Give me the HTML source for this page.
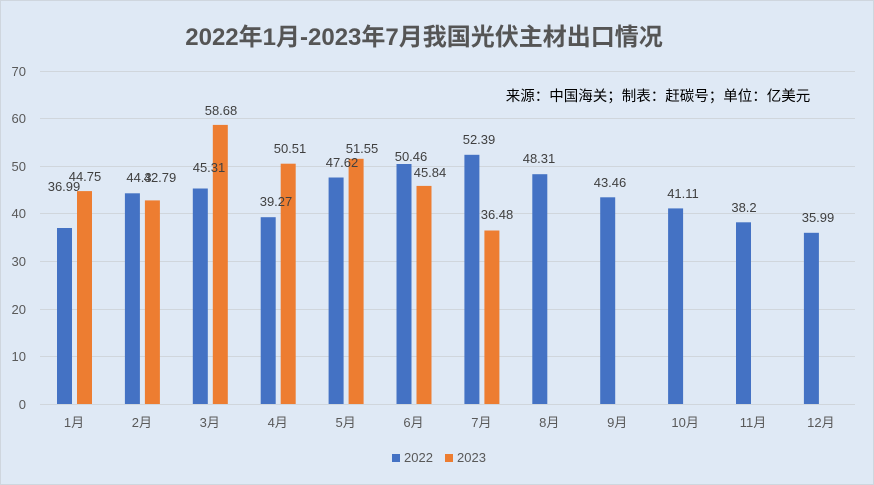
<!DOCTYPE html>
<html><head><meta charset="utf-8"><style>
body{margin:0;}
svg{display:block;font-family:"Liberation Sans","Noto Sans CJK SC",sans-serif;}
</style></head><body>
<svg width="874" height="485" xmlns="http://www.w3.org/2000/svg">
<rect x="0" y="0" width="874" height="485" fill="#dfe9f5"/>
<rect x="0.5" y="0.5" width="873" height="484" fill="none" stroke="#cfd6de"/>
<text x="424" y="45" text-anchor="middle" font-size="24" font-weight="bold" fill="#555">2022年1月-2023年7月我国光伏主材出口情况</text>
<text x="658" y="101" text-anchor="middle" font-size="14.5" fill="#000">来源：中国海关；制表：赶碳号；单位：亿美元</text>
<g stroke="#d0d6dc" stroke-width="1">
<line x1="40" x2="855" y1="71.5" y2="71.5"/><line x1="40" x2="855" y1="118.5" y2="118.5"/>
<line x1="40" x2="855" y1="166.5" y2="166.5"/><line x1="40" x2="855" y1="213.5" y2="213.5"/>
<line x1="40" x2="855" y1="261.5" y2="261.5"/><line x1="40" x2="855" y1="309.5" y2="309.5"/>
<line x1="40" x2="855" y1="356.5" y2="356.5"/><line x1="40" x2="855" y1="404.5" y2="404.5"/>
</g>
<g font-size="13" fill="#595959" text-anchor="end">
<text x="26" y="76">70</text><text x="26" y="123">60</text><text x="26" y="171">50</text><text x="26" y="218">40</text>
<text x="26" y="266">30</text><text x="26" y="314">20</text><text x="26" y="361">10</text><text x="26" y="409">0</text>
</g>
<g fill="#4472c4">
<rect x="57" y="228" width="15" height="176"/>
<rect x="124.9" y="193.3" width="15" height="210.7"/>
<rect x="192.8" y="188.5" width="15" height="215.5"/>
<rect x="260.7" y="217.2" width="15" height="186.8"/>
<rect x="328.6" y="177.5" width="15" height="226.5"/>
<rect x="396.5" y="164" width="15" height="240"/>
<rect x="464.4" y="154.8" width="15" height="249.2"/>
<rect x="532.3" y="174.2" width="15" height="229.8"/>
<rect x="600.2" y="197.3" width="15" height="206.7"/>
<rect x="668.1" y="208.4" width="15" height="195.6"/>
<rect x="736" y="222.3" width="15" height="181.7"/>
<rect x="803.9" y="232.8" width="15" height="171.2"/>
</g>
<g fill="#ed7d31">
<rect x="77" y="191.1" width="15" height="212.9"/>
<rect x="144.9" y="200.4" width="15" height="203.6"/>
<rect x="212.8" y="124.9" width="15" height="279.1"/>
<rect x="280.7" y="163.7" width="15" height="240.3"/>
<rect x="348.6" y="158.8" width="15" height="245.2"/>
<rect x="416.5" y="185.9" width="15" height="218.1"/>
<rect x="484.4" y="230.5" width="15" height="173.5"/>
</g>
<g font-size="13" fill="#404040" text-anchor="middle">
<text x="64" y="191">36.99</text><text x="85" y="181">44.75</text>
<text x="139" y="182">44.3</text><text x="160" y="182">42.79</text>
<text x="209" y="172">45.31</text><text x="221" y="115">58.68</text>
<text x="276" y="206">39.27</text><text x="290" y="153">50.51</text>
<text x="342" y="167">47.62</text><text x="362" y="153">51.55</text>
<text x="411" y="161">50.46</text><text x="430" y="177">45.84</text>
<text x="479" y="144">52.39</text><text x="497" y="219">36.48</text>
<text x="539" y="163">48.31</text><text x="610" y="187">43.46</text>
<text x="683" y="198">41.11</text><text x="744" y="212">38.2</text>
<text x="818" y="222">35.99</text>
</g>
<g font-size="13" fill="#595959" text-anchor="middle">
<text x="74" y="427">1月</text><text x="141.9" y="427">2月</text><text x="209.8" y="427">3月</text>
<text x="277.7" y="427">4月</text><text x="345.6" y="427">5月</text><text x="413.5" y="427">6月</text>
<text x="481.4" y="427">7月</text><text x="549.3" y="427">8月</text><text x="617.2" y="427">9月</text>
<text x="685.1" y="427">10月</text><text x="753" y="427">11月</text><text x="820.9" y="427">12月</text>
</g>
<rect x="392" y="454" width="8" height="8" fill="#4472c4"/>
<text x="404" y="462" font-size="13" fill="#595959">2022</text>
<rect x="445" y="454" width="8" height="8" fill="#ed7d31"/>
<text x="457" y="462" font-size="13" fill="#595959">2023</text>
</svg>
</body></html>
